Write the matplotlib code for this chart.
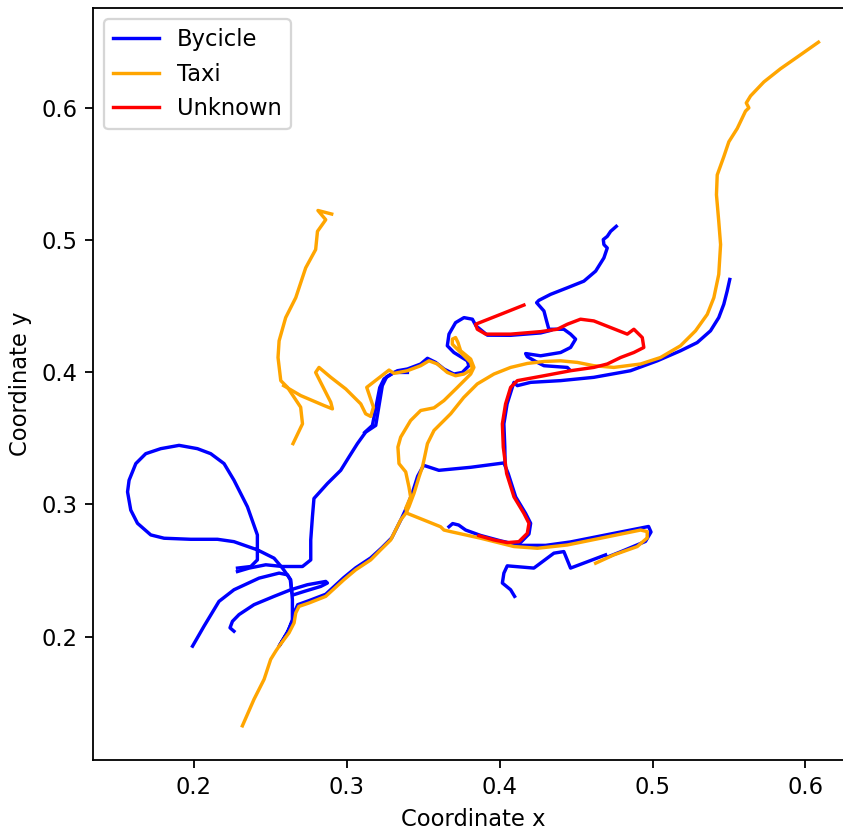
import matplotlib
matplotlib.use("Agg")
import matplotlib.pyplot as plt

# bicycle tracks (x, y)
bike_1 = ([0.5505, 0.5488, 0.5466, 0.5433, 0.5379, 0.5292, 0.5183, 0.5031, 0.4856, 0.4616, 0.4399, 0.4203,
           0.4116, 0.4094, 0.4083, 0.4049, 0.4028, 0.4034, 0.4036],
          [0.4703, 0.4615, 0.4515, 0.4414, 0.4314, 0.4225, 0.4163, 0.4087, 0.4012, 0.3962, 0.3937, 0.3924,
           0.3899, 0.3924, 0.3886, 0.3761, 0.3610, 0.3434, 0.3311])
bike_2 = ([0.4763, 0.4726, 0.4704, 0.4678, 0.4682, 0.4704, 0.4682, 0.4628, 0.4551, 0.4443, 0.4333, 0.4257,
           0.4242, 0.4290, 0.4307, 0.4322, 0.4420, 0.4464, 0.4497, 0.4464, 0.4399, 0.4268, 0.4170, 0.4181,
           0.4247, 0.4290, 0.4443, 0.4453],
          [0.5105, 0.5067, 0.5029, 0.5005, 0.4967, 0.4941, 0.4866, 0.4766, 0.4690, 0.4640, 0.4590, 0.4545,
           0.4527, 0.4464, 0.4389, 0.4326, 0.4326, 0.4289, 0.4251, 0.4188, 0.4150, 0.4125, 0.4142, 0.4118,
           0.4075, 0.4050, 0.4037, 0.4025])
bike_3 = ([0.2286, 0.2362, 0.2471, 0.2580, 0.2711, 0.2765, 0.2765, 0.2776, 0.2786, 0.2874, 0.2961, 0.3015,
           0.3070, 0.3124, 0.3190, 0.3233, 0.3262, 0.3332, 0.3397, 0.3484, 0.3528, 0.3582, 0.3636, 0.3701,
           0.3756, 0.3799, 0.3789, 0.3701, 0.3658, 0.3669, 0.3712, 0.3767, 0.3822, 0.3846, 0.3920, 0.4072,
           0.4268, 0.4333],
          [0.2492, 0.2518, 0.2543, 0.2530, 0.2530, 0.2580, 0.2731, 0.2907, 0.3045, 0.3158, 0.3258, 0.3359,
           0.3460, 0.3547, 0.3598, 0.3899, 0.3967, 0.4012, 0.4025, 0.4063, 0.4106, 0.4075, 0.4025, 0.3987,
           0.3999, 0.4050, 0.4087, 0.4150, 0.4201, 0.4289, 0.4376, 0.4414, 0.4402, 0.4351, 0.4281, 0.4280,
           0.4298, 0.4317])
bike_4 = ([0.3397, 0.3309, 0.3244, 0.3216, 0.3168, 0.3118],
          [0.3999, 0.3999, 0.3950, 0.3884, 0.3598, 0.3545])
bike_5 = ([0.2286, 0.2373, 0.2416, 0.2416, 0.2416, 0.2351, 0.2263, 0.2198, 0.2111, 0.2024, 0.1904, 0.1784,
           0.1686, 0.1621, 0.1577, 0.1567, 0.1588, 0.1632, 0.1719, 0.1806, 0.1980, 0.2155, 0.2263, 0.2416,
           0.2525, 0.2580, 0.2634, 0.2645, 0.2645, 0.2613, 0.2558, 0.2614, 0.2647, 0.2660, 0.2680, 0.2752,
           0.2863, 0.2980, 0.3059, 0.3157, 0.3229, 0.3294, 0.3327, 0.3360, 0.3399, 0.3431, 0.3464, 0.3503,
           0.3603, 0.3811, 0.4028, 0.4056, 0.4105, 0.4170, 0.4203, 0.4192, 0.4134],
          [0.2518, 0.2530, 0.2580, 0.2631, 0.2769, 0.2982, 0.3183, 0.3309, 0.3384, 0.3422, 0.3447, 0.3422,
           0.3384, 0.3309, 0.3183, 0.3095, 0.2957, 0.2857, 0.2769, 0.2744, 0.2736, 0.2736, 0.2718, 0.2656,
           0.2593, 0.2518, 0.2430, 0.2279, 0.2128, 0.2028, 0.1927, 0.2038, 0.2113, 0.2188, 0.2241, 0.2271,
           0.2320, 0.2445, 0.2520, 0.2595, 0.2671, 0.2746, 0.2821, 0.2897, 0.2995, 0.3093, 0.3213, 0.3296,
           0.3258, 0.3281, 0.3314, 0.3234, 0.3057, 0.2932, 0.2857, 0.2776, 0.2708])
bike_6 = ([0.4693, 0.4464, 0.4420, 0.4355, 0.4224, 0.4050, 0.4028, 0.4018, 0.4072, 0.4098],
          [0.2618, 0.2518, 0.2643, 0.2631, 0.2518, 0.2535, 0.2480, 0.2405, 0.2354, 0.2304])
bike_7 = ([0.3669, 0.3693, 0.3732, 0.3778, 0.3876, 0.4007, 0.4137, 0.4301, 0.4464, 0.4660, 0.4922, 0.4974,
           0.4990, 0.4954, 0.4791, 0.4704],
          [0.2831, 0.2855, 0.2844, 0.2806, 0.2765, 0.2724, 0.2690, 0.2690, 0.2716, 0.2761, 0.2821, 0.2833,
           0.2791, 0.2720, 0.2641, 0.2601])
bike_8 = ([0.1992, 0.2067, 0.2165, 0.2263, 0.2427, 0.2558, 0.2613, 0.2631, 0.2641],
          [0.1927, 0.2078, 0.2266, 0.2354, 0.2442, 0.2480, 0.2467, 0.2430, 0.2339])
bike_9 = ([0.2263, 0.2237, 0.2253, 0.2296, 0.2394, 0.2525, 0.2634, 0.2743, 0.2863, 0.2874, 0.2830, 0.2721,
           0.2656],
          [0.2040, 0.2066, 0.2115, 0.2166, 0.2241, 0.2304, 0.2354, 0.2392, 0.2417, 0.2405, 0.2379, 0.2341,
           0.2317])

# taxi tracks (x, y)
taxi_1 = ([0.6085, 0.5946, 0.5837, 0.5728, 0.5641, 0.5613, 0.5630, 0.5608, 0.5554, 0.5499, 0.5466, 0.5423,
           0.5418, 0.5433, 0.5445, 0.5433, 0.5401, 0.5358, 0.5281, 0.5183, 0.5052, 0.4922, 0.4747, 0.4616,
           0.4508, 0.4399, 0.4290, 0.4181, 0.4072, 0.3963, 0.3854, 0.3765, 0.3680, 0.3571, 0.3528, 0.3505,
           0.3495, 0.3473, 0.3440, 0.3407, 0.3386, 0.3353, 0.3320, 0.3288, 0.3222, 0.3157, 0.3059, 0.2982,
           0.2863, 0.2754, 0.2688, 0.2667, 0.2656, 0.2623, 0.2558, 0.2536, 0.2503, 0.2460, 0.2394, 0.2318],
          [0.6499, 0.6386, 0.6298, 0.6198, 0.6092, 0.6039, 0.6002, 0.5977, 0.5846, 0.5745, 0.5632, 0.5494,
           0.5344, 0.5143, 0.4967, 0.4741, 0.4565, 0.4439, 0.4314, 0.4201, 0.4112, 0.4063, 0.4037, 0.4050,
           0.4075, 0.4087, 0.4082, 0.4067, 0.4037, 0.3987, 0.3912, 0.3809, 0.3686, 0.3560, 0.3460, 0.3334,
           0.3283, 0.3208, 0.3083, 0.2982, 0.2932, 0.2882, 0.2806, 0.2731, 0.2656, 0.2580, 0.2505, 0.2430,
           0.2304, 0.2254, 0.2228, 0.2179, 0.2103, 0.2028, 0.1927, 0.1889, 0.1827, 0.1676, 0.1525, 0.1324])
taxi_2 = ([0.2902, 0.2812, 0.2863, 0.2809, 0.2797, 0.2732, 0.2667, 0.2601, 0.2558, 0.2551, 0.2569, 0.2613,
           0.2699, 0.2711, 0.2649],
          [0.5198, 0.5225, 0.5155, 0.5067, 0.4929, 0.4791, 0.4565, 0.4414, 0.4238, 0.4112, 0.3937, 0.3886,
           0.3736, 0.3610, 0.3460])
taxi_3 = ([0.2588, 0.2699, 0.2853, 0.2907, 0.2896, 0.2797, 0.2819, 0.2896, 0.2994, 0.3092, 0.3124, 0.3157,
           0.3175, 0.3131, 0.3277, 0.3309, 0.3397, 0.3484, 0.3538, 0.3593, 0.3658, 0.3712, 0.3767, 0.3822,
           0.3811, 0.3734, 0.3691, 0.3691, 0.3712, 0.3728, 0.3745, 0.3811, 0.3832, 0.3811, 0.3724, 0.3636,
           0.3571, 0.3484, 0.3418, 0.3353, 0.3335, 0.3342, 0.3386, 0.3407, 0.3418, 0.3386, 0.3397, 0.3614,
           0.3636, 0.3680, 0.3876, 0.4094, 0.4247, 0.4443, 0.4660, 0.4922, 0.4965, 0.4965, 0.4900, 0.4747,
           0.4628],
          [0.3899, 0.3824, 0.3748, 0.3723, 0.3773, 0.3999, 0.4037, 0.3962, 0.3874, 0.3761, 0.3686, 0.3666,
           0.3736, 0.3886, 0.4017, 0.3992, 0.4012, 0.4050, 0.4087, 0.4063, 0.3999, 0.3974, 0.3987, 0.4025,
           0.4075, 0.4163, 0.4213, 0.4251, 0.4263, 0.4225, 0.4163, 0.4100, 0.4037, 0.3987, 0.3886, 0.3786,
           0.3731, 0.3711, 0.3635, 0.3509, 0.3434, 0.3309, 0.3246, 0.3133, 0.3057, 0.2970, 0.2932, 0.2831,
           0.2806, 0.2794, 0.2744, 0.2681, 0.2668, 0.2693, 0.2744, 0.2806, 0.2794, 0.2746, 0.2681, 0.2618,
           0.2555])

# unknown track (x, y)
unknown_1 = ([0.4159, 0.4007, 0.3843, 0.3854, 0.3909, 0.4072, 0.4268, 0.4377, 0.4443, 0.4529, 0.4616, 0.4835,
              0.4878, 0.4933, 0.4943, 0.4878, 0.4791, 0.4704, 0.4616, 0.4464, 0.4290, 0.4116, 0.4072, 0.4039,
              0.4018, 0.4024, 0.4046, 0.4094, 0.4159, 0.4192, 0.4181, 0.4126, 0.4050, 0.3963, 0.3865],
             [0.4509, 0.4439, 0.4364, 0.4326, 0.4289, 0.4289, 0.4308, 0.4326, 0.4364, 0.4402, 0.4389, 0.4289,
              0.4326, 0.4263, 0.4188, 0.4150, 0.4112, 0.4063, 0.4037, 0.4012, 0.3974, 0.3937, 0.3886, 0.3761,
              0.3610, 0.3434, 0.3234, 0.3057, 0.2932, 0.2857, 0.2781, 0.2718, 0.2711, 0.2731, 0.2763])

bike_tracks = [bike_1, bike_2, bike_3, bike_4, bike_5, bike_6, bike_7, bike_8, bike_9]
taxi_tracks = [taxi_1, taxi_2, taxi_3]
unknown_tracks = [unknown_1]

dpi = 163
fig = plt.figure(figsize=(843 / dpi, 830 / dpi), dpi=dpi)
ax = fig.add_axes([93 / 843, 70 / 830, 760 / 843, 752 / 830])

for tracks, color, name in [(bike_tracks, 'blue', 'Bycicle'),
                            (taxi_tracks, 'orange', 'Taxi'),
                            (unknown_tracks, 'red', 'Unknown')]:
    for i, (xs, ys) in enumerate(tracks):
        ax.plot(xs, ys, color=color, linewidth=1.5, label=name if i == 0 else None)

ax.set_xlabel('Coordinate x')
ax.set_ylabel('Coordinate y')
ax.legend(loc='upper left')

fig.savefig('out.png', dpi=dpi)
